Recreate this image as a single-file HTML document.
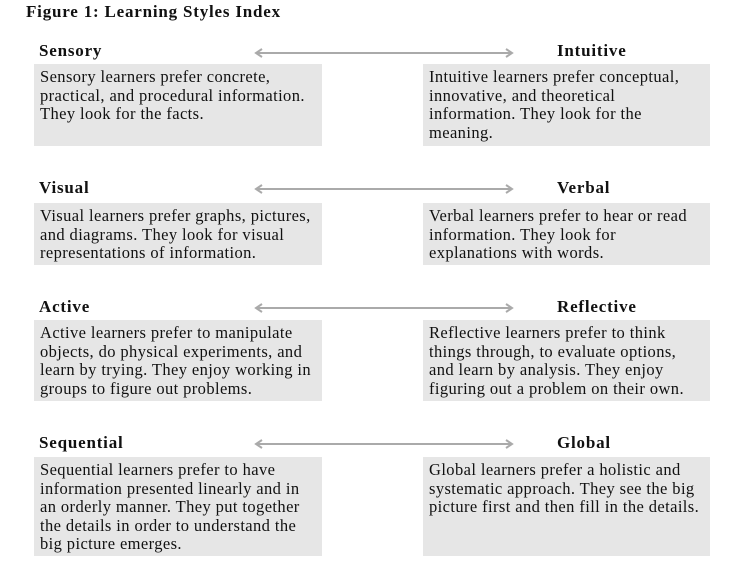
<!DOCTYPE html>
<html><head><meta charset="utf-8"><style>
body{margin:0;width:743px;height:576px;background:#fff;font-family:"Liberation Serif",serif;color:#111;position:relative;overflow:hidden}
.t{position:absolute;left:26px;top:2px;font-weight:bold;font-size:17px;letter-spacing:0.8px;white-space:nowrap}
.h{position:absolute;font-weight:bold;font-size:17px;line-height:20px;letter-spacing:0.8px}
.b{position:absolute;background:#e6e6e6;font-size:16.5px;line-height:18.6px;padding:4px 6px;box-sizing:border-box;white-space:nowrap;letter-spacing:0.4px}
svg{position:absolute;left:0;top:0}
</style></head><body>
<div class="t">Figure 1: Learning Styles Index</div>
<svg width="743" height="576">
<g stroke="#aaa" stroke-width="2" fill="none">
<path d="M256 53H512M262 49L256 53L262 57M506 49L512 53L506 57"/>
<path d="M256 189H512M262 185L256 189L262 193M506 185L512 189L506 193"/>
<path d="M256 308H512M262 304L256 308L262 312M506 304L512 308L506 312"/>
<path d="M256 444H512M262 440L256 444L262 448M506 440L512 444L506 448"/>
</g></svg>
<div class="h" style="left:39px;top:41px">Sensory</div>
<div class="h" style="left:557px;top:41px">Intuitive</div>
<div class="b" style="left:34px;top:64px;width:288px;height:82px">Sensory learners prefer concrete,<br>practical, and procedural information.<br>They look for the facts.</div>
<div class="b" style="left:423px;top:64px;width:287px;height:82px">Intuitive learners prefer conceptual,<br>innovative, and theoretical<br>information. They look for the<br>meaning.</div>
<div class="h" style="left:39px;top:178px">Visual</div>
<div class="h" style="left:557px;top:178px">Verbal</div>
<div class="b" style="left:34px;top:203px;width:288px;height:62px">Visual learners prefer graphs, pictures,<br>and diagrams. They look for visual<br>representations of information.</div>
<div class="b" style="left:423px;top:203px;width:287px;height:62px">Verbal learners prefer to hear or read<br>information. They look for<br>explanations with words.</div>
<div class="h" style="left:39px;top:297px">Active</div>
<div class="h" style="left:557px;top:297px">Reflective</div>
<div class="b" style="left:34px;top:320px;width:288px;height:81px">Active learners prefer to manipulate<br>objects, do physical experiments, and<br>learn by trying. They enjoy working in<br>groups to figure out problems.</div>
<div class="b" style="left:423px;top:320px;width:287px;height:81px">Reflective learners prefer to think<br>things through, to evaluate options,<br>and learn by analysis. They enjoy<br>figuring out a problem on their own.</div>
<div class="h" style="left:39px;top:433px">Sequential</div>
<div class="h" style="left:557px;top:433px">Global</div>
<div class="b" style="left:34px;top:457px;width:288px;height:99px">Sequential learners prefer to have<br>information presented linearly and in<br>an orderly manner. They put together<br>the details in order to understand the<br>big picture emerges.</div>
<div class="b" style="left:423px;top:457px;width:287px;height:99px">Global learners prefer a holistic and<br>systematic approach. They see the big<br>picture first and then fill in the details.</div>
</body></html>
